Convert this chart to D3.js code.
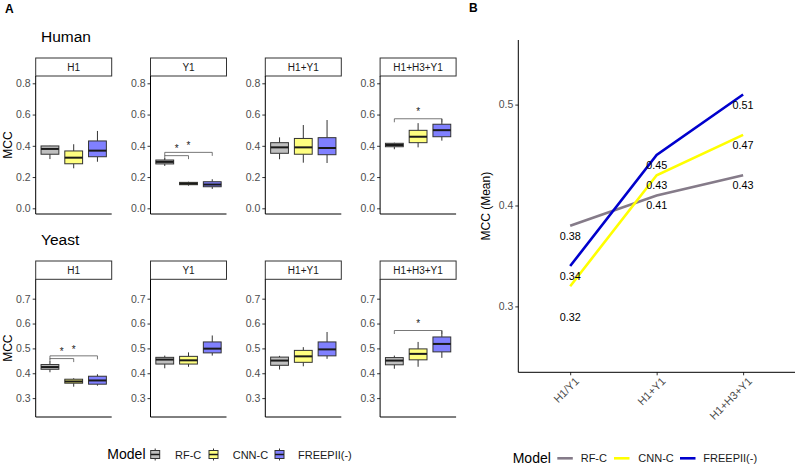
<!DOCTYPE html>
<html><head><meta charset="utf-8">
<script src="https://cdn.jsdelivr.net/npm/d3@7"></script>
<style>body{margin:0;background:#fff} svg{display:block;font-family:"Liberation Sans",Arial,sans-serif}</style>
</head><body><svg id="c" width="796" height="465"></svg>
<script>
const models = ["RF-C","CNN-C","FREEPII(-)"];
const facets = ["H1","Y1","H1+Y1","H1+H3+Y1"];
const boxFill = ["#BFBFBF","#FFFF80","#8080FF"];
// box stats per model: [lower whisker, q1, median, q3, upper whisker]
const humanH1 = [[0.315,0.346,0.38,0.399,0.40],[0.256,0.285,0.324,0.367,0.41],[0.298,0.33,0.369,0.431,0.495]];
const humanY1 = [[0.271,0.284,0.297,0.309,0.322],[0.145,0.151,0.158,0.166,0.17],[0.124,0.138,0.152,0.17,0.186]];
const humanH1Y1 = [[0.314,0.352,0.39,0.42,0.454],[0.292,0.346,0.39,0.447,0.533],[0.29,0.343,0.386,0.452,0.565]];
const humanH1H3Y1 = [[0.378,0.394,0.405,0.416,0.42],[0.39,0.42,0.458,0.499,0.545],[0.433,0.458,0.5,0.538,0.573]];
const yeastH1 = [[0.404,0.416,0.425,0.435,0.448],[0.346,0.36,0.367,0.376,0.38],[0.35,0.356,0.371,0.388,0.396]];
const yeastY1 = [[0.42,0.437,0.455,0.464,0.471],[0.426,0.437,0.452,0.468,0.484],[0.471,0.482,0.499,0.526,0.552]];
const yeastH1Y1 = [[0.415,0.432,0.451,0.465,0.47],[0.428,0.444,0.468,0.492,0.505],[0.458,0.47,0.496,0.526,0.566]];
const yeastH1H3Y1 = [[0.418,0.434,0.451,0.463,0.471],[0.426,0.454,0.478,0.498,0.526],[0.462,0.486,0.518,0.546,0.572]];
const humanTicks = [0,0.2,0.4,0.6,0.8];
const yeastTicks = [0.3,0.4,0.5,0.6,0.7];
// significance: [facet index, group from, group to, bracket y, star y]
const humanSig = [[1,0,1,0.337,0.39],[1,0,2,0.358,0.41],[3,0,2,0.573,0.627]];
const yeastSig = [[0,0,1,0.459,0.491],[0,0,2,0.47,0.50],[3,0,2,0.572,0.604]];
// panel B
const groupsB = ["H1/Y1","H1+Y1","H1+H3+Y1"];
const meanRF = [0.38,0.41,0.43];
const meanCNN = [0.32,0.43,0.47];
const meanFREE = [0.34,0.45,0.51];
const labelRF = [0.3692,0.40,0.4198];
const labelCNN = [0.2893,0.4198,0.4595];
const labelFREE = [0.3296,0.4397,0.4996];
const meanTicks = [0.3,0.4,0.5];
const lineColors = ["#857B89","#FFFF00","#0000CD"];

const svg = d3.select("#c");
const tickCol = "#4d4d4d";

svg.append("text").attr("x",5).attr("y",12.7).attr("font-size",12).attr("font-weight","bold").text("A");
svg.append("text").attr("x",469).attr("y",11.7).attr("font-size",12).attr("font-weight","bold").text("B");

const rowsA = [
  {title:"Human", titleY:42, stripTop:58, top:76, bottom:214, domain:[-0.0365,0.8467], ticks:humanTicks, fmt:d3.format(".1f"), data:[humanH1,humanY1,humanH1Y1,humanH1H3Y1], sig:humanSig},
  {title:"Yeast", titleY:245, stripTop:261, top:279.3, bottom:417, domain:[0.224,0.778], ticks:yeastTicks, fmt:d3.format(".1f"), data:[yeastH1,yeastY1,yeastH1Y1,yeastH1H3Y1], sig:yeastSig}
];
const panelW = 76;
rowsA.forEach(row=>{
  svg.append("text").attr("x",41).attr("y",row.titleY).attr("font-size",15.5).attr("fill","#000").text(row.title);
  svg.append("text").attr("transform",`translate(12,${(row.top+row.bottom)/2}) rotate(-90)`)
    .attr("text-anchor","middle").attr("font-size",12).text("MCC");
  const y = d3.scaleLinear().domain(row.domain).range([row.bottom,row.top]);
  facets.forEach((f,fi)=>{
    const x0 = 35.7 + fi*114.8;
    const x = d3.scaleLinear().domain([0.4,3.6]).range([x0,x0+panelW]);
    const g = svg.append("g");
    g.append("rect").attr("x",x0).attr("y",row.stripTop).attr("width",panelW).attr("height",row.top-row.stripTop)
      .attr("fill","#fff").attr("stroke","#333").attr("stroke-width",1);
    g.append("text").attr("x",x0+panelW/2).attr("y",(row.stripTop+row.top)/2+3.6).attr("text-anchor","middle")
      .attr("font-size",10).attr("fill","#1a1a1a").text(f);
    const ax = g.append("g").attr("transform",`translate(${x0},0)`)
      .call(d3.axisLeft(y).tickValues(row.ticks).tickFormat(row.fmt).tickSize(3).tickPadding(2));
    ax.select(".domain").remove();
    ax.selectAll("line").attr("stroke","#333");
    ax.selectAll("text").attr("fill",tickCol).attr("font-size",10.5).attr("font-family","Liberation Sans, Arial, sans-serif");
    g.append("line").attr("x1",x0).attr("x2",x0).attr("y1",row.top).attr("y2",row.bottom).attr("stroke","#000").attr("stroke-width",1);
    g.append("line").attr("x1",x0).attr("x2",x0+panelW).attr("y1",row.bottom).attr("y2",row.bottom).attr("stroke","#000").attr("stroke-width",1);
    const bw = (x(1.75)-x(1));
    row.data[fi].forEach((s,mi)=>{
      const cx = x(mi+1);
      g.append("line").attr("x1",cx).attr("x2",cx).attr("y1",y(s[0])).attr("y2",y(s[1])).attr("stroke","#333").attr("stroke-width",1);
      g.append("line").attr("x1",cx).attr("x2",cx).attr("y1",y(s[3])).attr("y2",y(s[4])).attr("stroke","#333").attr("stroke-width",1);
      g.append("rect").attr("x",cx-bw/2).attr("y",y(s[3])).attr("width",bw).attr("height",Math.max(0.5,y(s[1])-y(s[3])))
        .attr("fill",boxFill[mi]).attr("stroke","#333").attr("stroke-width",1);
      g.append("line").attr("x1",cx-bw/2).attr("x2",cx+bw/2).attr("y1",y(s[2])).attr("y2",y(s[2])).attr("stroke","#1a1a1a").attr("stroke-width",2);
    });
    row.sig.filter(s=>s[0]===fi).forEach(s=>{
      const xa = x(s[1]+1), xb = x(s[2]+1), yy = y(s[3]);
      g.append("path").attr("d",`M${xa},${yy+3.5}V${yy}H${xb}V${yy+3.5}`).attr("fill","none").attr("stroke","#555").attr("stroke-width",0.8);
      g.append("text").attr("x",(xa+xb)/2).attr("y",y(s[4])+4.5).attr("text-anchor","middle").attr("font-size",10).attr("fill","#222").text("*");
    });
  });
});

// legend A
const legA = svg.append("g");
legA.append("text").attr("x",145.5).attr("y",459).attr("text-anchor","end").attr("font-size",14).text("Model");
const keyXA = [150.7,209,275], txtXA = [175,232.7,298];
models.forEach((m,i)=>{
  const kx = keyXA[i], cy = 454.5;
  legA.append("line").attr("x1",kx+4.5).attr("x2",kx+4.5).attr("y1",cy-6).attr("y2",cy+6).attr("stroke","#333");
  legA.append("rect").attr("x",kx).attr("y",cy-4).attr("width",9).attr("height",8).attr("fill",boxFill[i]).attr("stroke","#333");
  legA.append("line").attr("x1",kx).attr("x2",kx+9).attr("y1",cy).attr("y2",cy).attr("stroke","#1a1a1a").attr("stroke-width",1.5);
  legA.append("text").attr("x",txtXA[i]).attr("y",cy+4).attr("font-size",11).attr("fill","#1a1a1a").text(m);
});

// panel B
const bL = 518.3, bR = 795, bT = 40, bB = 372.3;
const xB = d3.scalePoint().domain(groupsB).range([bL+0.6*(bR-bL)/3.2, bR-0.6*(bR-bL)/3.2]);
const yB = d3.scaleLinear().domain([0.2347,0.564]).range([bB,bT]);
const gB = svg.append("g");
const axB = gB.append("g").attr("transform",`translate(${bL},0)`).call(d3.axisLeft(yB).tickValues(meanTicks).tickFormat(d3.format("~g")).tickSize(3).tickPadding(2));
axB.select(".domain").remove();
axB.selectAll("line").attr("stroke","#333");
axB.selectAll("text").attr("fill",tickCol).attr("font-size",10.5).attr("font-family","Liberation Sans, Arial, sans-serif");
const axBx = gB.append("g").attr("transform",`translate(0,${bB})`).call(d3.axisBottom(xB).tickSize(3).tickFormat(""));
axBx.select(".domain").remove();
axBx.selectAll("line").attr("stroke","#333");
gB.selectAll("text.xl").data(groupsB).join("text").attr("class","xl")
  .attr("transform",d=>`translate(${xB(d)+4},${bB+4}) rotate(-45)`)
  .attr("text-anchor","end").attr("dy","0.72em").attr("font-size",11).attr("fill",tickCol).text(d=>d);
gB.append("line").attr("x1",bL).attr("x2",bL).attr("y1",bT).attr("y2",bB).attr("stroke","#000");
gB.append("line").attr("x1",bL).attr("x2",bR).attr("y1",bB).attr("y2",bB).attr("stroke","#000");
gB.append("text").attr("transform",`translate(490,${(bT+bB)/2}) rotate(-90)`).attr("text-anchor","middle").attr("font-size",12).text("MCC (Mean)");
const seriesB = [meanRF,meanCNN,meanFREE];
const labelsB = [labelRF,labelCNN,labelFREE];
const line = d3.line().x((d,i)=>xB(groupsB[i])).y(d=>yB(d));
seriesB.forEach((s,i)=>{
  gB.append("path").attr("d",line(s)).attr("fill","none").attr("stroke",lineColors[i]).attr("stroke-width",2.6);
});
seriesB.forEach((s,i)=>{
  s.forEach((v,j)=>{
    gB.append("text").attr("x",xB(groupsB[j])).attr("y",yB(labelsB[i][j])).attr("dy","0.35em")
      .attr("text-anchor","middle").attr("font-size",10.8).attr("fill","#000").text(d3.format(".2f")(v));
  });
});
// legend B
const legB = svg.append("g");
legB.append("text").attr("x",512.7).attr("y",463).attr("font-size",14).text("Model");
const keyXB=[557.3,614,680], txtXB=[580.7,638.3,703.3];
models.forEach((m,i)=>{
  legB.append("line").attr("x1",keyXB[i]).attr("x2",keyXB[i]+15.5).attr("y1",458.3).attr("y2",458.3).attr("stroke",lineColors[i]).attr("stroke-width",2.6);
  legB.append("text").attr("x",txtXB[i]).attr("y",462.2).attr("font-size",11).attr("fill","#1a1a1a").text(m);
});
</script></body></html>
